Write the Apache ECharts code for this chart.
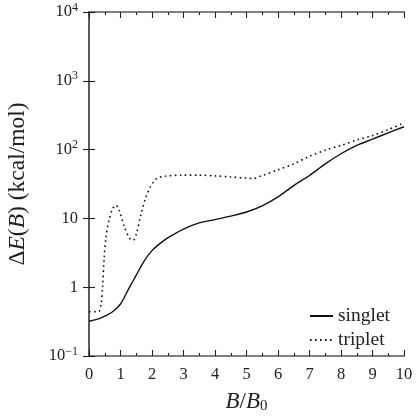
<!DOCTYPE html>
<html>
<head>
<meta charset="utf-8">
<script src="https://cdn.jsdelivr.net/npm/echarts@6/dist/echarts.min.js"></script>
<style>
  html, body { margin: 0; padding: 0; background: #fff; }
  #chart { width: 419px; height: 419px; }
</style>
</head>
<body>
<div id="chart"></div>
<script>
// B/B0 positions and energy gaps
const singletB = [0, 0.25, 0.5, 0.75, 1.0, 1.25, 1.5, 1.75, 2.0, 2.25, 2.5, 3.0, 3.5, 4.0, 4.5, 5.0, 5.5, 6.0, 6.5, 7.0, 7.5, 8.0, 8.5, 9.0, 9.5, 10];
const singletE = [0.32, 0.34, 0.38, 0.44, 0.57, 0.93, 1.5, 2.4, 3.4, 4.3, 5.2, 7.0, 8.6, 9.6, 10.8, 12.4, 15.2, 20.5, 30, 42, 62, 87, 115, 142, 175, 215];

const tripletB = [0, 0.3, 0.38, 0.43, 0.48, 0.54, 0.64, 0.75, 0.85, 0.96, 1.12, 1.28, 1.4, 1.5, 1.65, 1.8, 1.95, 2.05, 2.15, 2.4, 3.0, 3.5, 4.0, 4.5, 5.0, 5.2, 5.5, 6.0, 6.5, 7.0, 7.5, 8.0, 8.5, 9.0, 9.5, 10];
const tripletE = [0.44, 0.44, 0.55, 1.0, 2.6, 5.4, 9.5, 13.9, 15.6, 13, 7.6, 5.2, 4.8, 5.9, 11.5, 20, 29, 34, 38, 41, 42.5, 42.5, 41.5, 40, 38.5, 38, 42, 51, 62, 80, 98, 115, 138, 160, 195, 245];

const yTickLabels = { 0.1: '10{sup|−1}', 1: '1', 10: '10', 100: '10{sup|2}', 1000: '10{sup|3}', 10000: '10{sup|4}' };

const font = 'Liberation Serif';
const ink = '#222';
const axisLine = { lineStyle: { color: '#555', width: 1.6 } };
const tick = { inside: true, length: 6, lineStyle: { color: '#222', width: 1.1 } };
const minor = { show: true, splitNumber: 2, length: 3, lineStyle: { color: '#222', width: 1.1 } };

const chart = echarts.init(document.getElementById('chart'));

const option = {
  animation: false,
  backgroundColor: '#fff',
  textStyle: { fontFamily: font, color: ink },
  grid: { left: 89, right: 15, top: 12, bottom: 63, outerBoundsMode: 'none', containLabel: false },
  legend: {
    orient: 'vertical',
    right: 24,
    bottom: 64,
    itemWidth: 23,
    itemHeight: 10,
    itemGap: 4,
    itemStyle: { opacity: 0 },
    textStyle: { fontFamily: font, fontSize: 19.5, color: ink },
    data: ['singlet', 'triplet']
  },
  xAxis: [{
    type: 'value',
    min: 0, max: 10, interval: 1,
    name: '{i|B}/{i|B}{sub|0}',
    nameLocation: 'middle',
    nameGap: 34,
    nameTextStyle: {
      fontFamily: font, fontSize: 23, color: ink,
      rich: {
        i: { fontFamily: font, fontStyle: 'italic', fontSize: 23, color: ink },
        sub: { fontFamily: font, fontSize: 15, color: ink, padding: [9, 0, 0, 0] }
      }
    },
    axisLine: axisLine,
    axisTick: tick,
    minorTick: minor,
    axisLabel: { fontFamily: font, fontSize: 16.5, color: ink, margin: 10 },
    splitLine: { show: false }
  }, {
    type: 'value',
    position: 'top',
    min: 0, max: 10, interval: 1,
    axisLine: axisLine,
    axisTick: tick,
    minorTick: minor,
    axisLabel: { show: false },
    splitLine: { show: false }
  }],
  yAxis: [{
    type: 'log',
    logBase: 10,
    min: 0.1, max: 10000,
    name: 'Δ{i|E}({i|B}) (kcal/mol)',
    nameLocation: 'middle',
    nameGap: 59,
    nameRotate: 90,
    nameTextStyle: {
      fontFamily: font, fontSize: 23.5, color: ink,
      rich: { i: { fontFamily: font, fontStyle: 'italic', fontSize: 23.5, color: ink } }
    },
    axisLine: Object.assign({ show: true }, axisLine),
    axisTick: tick,
    axisLabel: {
      fontFamily: font, fontSize: 16.5, color: ink, margin: 11,
      formatter: v => yTickLabels[+v.toPrecision(3)] || '',
      rich: { sup: { fontFamily: font, fontSize: 12, color: ink, padding: [0, 0, 9, 0] } }
    },
    splitLine: { show: false }
  }, {
    type: 'log',
    logBase: 10,
    min: 0.1, max: 10000,
    position: 'right',
    axisLine: Object.assign({ show: true }, axisLine),
    axisTick: tick,
    axisLabel: { show: false },
    splitLine: { show: false }
  }],
  series: [{
    name: 'singlet',
    type: 'line',
    xAxisIndex: 0, yAxisIndex: 0,
    data: singletB.map((b, i) => [b, singletE[i]]),
    smooth: 0.3,
    symbol: 'none',
    lineStyle: { color: '#111', width: 1.4, type: 'solid' },
    itemStyle: { color: '#111' }
  }, {
    name: 'triplet',
    type: 'line',
    xAxisIndex: 0, yAxisIndex: 0,
    data: tripletB.map((b, i) => [b, tripletE[i]]),
    smooth: 0.3,
    symbol: 'none',
    lineStyle: { color: '#111', width: 1.6, type: [1.6, 3.4] },
    itemStyle: { color: '#111' }
  }]
};

chart.setOption(option);
</script>
</body>
</html>
